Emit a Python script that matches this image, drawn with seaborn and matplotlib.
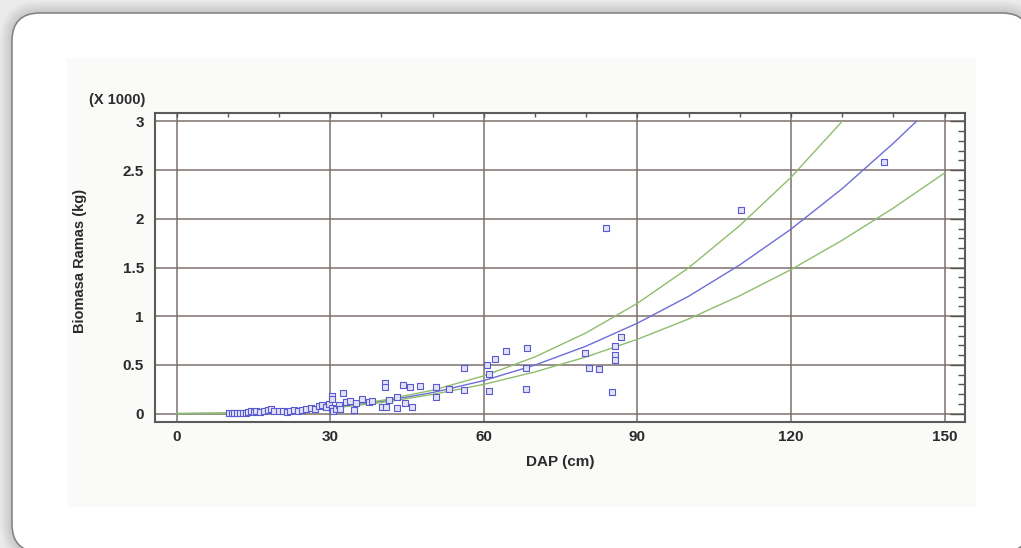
import matplotlib
matplotlib.use("Agg")
import matplotlib.pyplot as plt
from matplotlib.patches import FancyBboxPatch, Rectangle
from matplotlib.ticker import MultipleLocator, FuncFormatter
import pandas as pd
import seaborn as sns

# Observed trees: diameter at breast height (cm) and branch biomass (thousands of kg)
dap_cm = [
    10.2, 10.8, 11.3, 11.9, 12.4, 13.0, 13.5, 14.0, 14.6, 15.2, 15.5, 16.3,
    17.0, 17.8, 18.4, 19.0, 20.1, 20.8, 21.5, 22.2, 23.0, 23.8, 24.5, 25.3,
    26.2, 27.0, 27.8, 28.5, 29.2, 29.8, 30.3, 30.5, 31.2, 31.8, 32.0,
    30.3, 30.4, 32.6, 33.2, 33.9, 34.6, 35.0, 36.2, 37.6, 38.2, 40.2, 40.8,
    40.8, 40.9, 41.5, 43.1, 43.1, 44.2, 44.7, 45.7, 46.0, 47.5, 50.6, 50.6,
    53.2, 56.1, 56.1,
    60.7, 61.1, 61.1, 62.2, 64.4, 68.4, 68.2, 68.2, 79.7, 80.5, 82.6, 83.8,
    85.1, 85.6, 85.6, 85.6, 86.8, 110.3, 138.2,
]
biomasa_ramas = [
    0.004, 0.006, 0.005, 0.008, 0.007, 0.009, 0.010, 0.012, 0.030, 0.014, 0.025, 0.018,
    0.022, 0.035, 0.048, 0.030, 0.026, 0.032, 0.020, 0.028, 0.035, 0.030, 0.042, 0.050,
    0.060, 0.045, 0.075, 0.085, 0.070, 0.100, 0.060, 0.030, 0.045, 0.090, 0.050,
    0.180, 0.150, 0.216, 0.120, 0.130, 0.040, 0.110, 0.150, 0.115, 0.125, 0.070, 0.310,
    0.270, 0.070, 0.140, 0.175, 0.060, 0.290, 0.110, 0.270, 0.070, 0.280, 0.270, 0.170,
    0.250, 0.470, 0.240,
    0.500, 0.410, 0.230, 0.560, 0.640, 0.670, 0.470, 0.250, 0.620, 0.470, 0.460, 1.905,
    0.220, 0.690, 0.600, 0.550, 0.790, 2.086, 2.580,
]

# Fitted model and its confidence limits (thousands of kg)
fit_dap = [0, 10, 20, 30, 40, 50, 60, 70, 80, 90, 100, 110, 120, 130, 140, 144.5]
fit_mid = [0, 0.004, 0.022, 0.061, 0.124, 0.216, 0.339, 0.498, 0.693, 0.928,
           1.204, 1.526, 1.893, 2.309, 2.775, 3.0]
upper_dap = [0, 10, 20, 30, 40, 50, 60, 70, 80, 90, 100, 110, 120, 130]
fit_upper = [0, 0.006, 0.027, 0.068, 0.135, 0.240, 0.387, 0.582, 0.829, 1.132,
             1.496, 1.930, 2.425, 3.0]
lower_dap = [0, 10, 20, 30, 40, 50, 60, 70, 80, 90, 100, 110, 120, 130, 140, 150]
fit_lower = [0, 0.003, 0.018, 0.054, 0.113, 0.197, 0.300, 0.428, 0.582, 0.763,
             0.971, 1.210, 1.478, 1.779, 2.110, 2.470]

x_ticks = [0, 30, 60, 90, 120, 150]
y_ticks = [0, 0.5, 1, 1.5, 2, 2.5, 3]

sns.set_style("white")
plt.rcParams["font.family"] = ["Liberation Sans", "DejaVu Sans"]
text_color = "#2b2b2b"

W, H = 1021, 548
fig = plt.figure(figsize=(W / 100, H / 100), dpi=100)
fig.patch.set_facecolor("#ebebeb")

# Card background drawn in pixel units
bg = fig.add_axes([0, 0, 1, 1])
bg.set_xlim(0, W)
bg.set_ylim(H, 0)
bg.axis("off")
cx, cy, cw, ch, r = 12, 13, 1018, 539, 28
for d in range(12, 0, -1):
    bg.add_patch(FancyBboxPatch((cx - d, cy - d), cw + 2 * d, ch + 2 * d,
                                boxstyle=f"round,pad=0,rounding_size={r + d}",
                                fc="black", ec="none", alpha=0.013))
bg.add_patch(FancyBboxPatch((cx, cy), cw, ch,
                            boxstyle=f"round,pad=0,rounding_size={r}",
                            fc="white", ec="#7f7f7f", lw=1.1))
bg.add_patch(Rectangle((67, 58), 909, 449, fc="#fafaf9", ec="none"))

# Plot area
ax = fig.add_axes([155 / W, (H - 422) / H, 810 / W, 309 / H])
ax.set_facecolor("white")

obs = pd.DataFrame({"dap": dap_cm, "biomasa": biomasa_ramas})
curves = [
    (fit_dap, fit_mid, "#6d6dd6"),
    (upper_dap, fit_upper, "#8fbd6c"),
    (lower_dap, fit_lower, "#8fbd6c"),
]
for xs, ys, col in curves:
    sns.lineplot(x=xs, y=ys, ax=ax, color=col, lw=1.0, sort=False,
                 estimator=None, zorder=3)
sns.scatterplot(data=obs, x="dap", y="biomasa", ax=ax, marker="s", s=20,
                facecolor="#e2e2f7", edgecolor="#5a5ad0", linewidth=0.8,
                zorder=4)

ax.set_xlim(-4.2, 154.0)
ax.set_ylim(-0.086, 3.086)
ax.set_xticks(x_ticks)
ax.set_yticks(y_ticks)
ax.xaxis.set_minor_locator(MultipleLocator(10))
ax.yaxis.set_minor_locator(MultipleLocator(0.1))
ax.yaxis.set_major_formatter(FuncFormatter(lambda v, p: f"{v:g}"))

ax.set_axisbelow(True)
ax.grid(True, which="major", color="#7d726e", lw=1.1)
for sp in ax.spines.values():
    sp.set_color("#5b5b5b")
    sp.set_linewidth(1.5)

ax.tick_params(which="both", direction="in", top=True, right=True,
               color="#555555", width=1.0, labelcolor=text_color)
ax.tick_params(axis="y", which="major", length=11, pad=8, labelsize=11)
ax.tick_params(axis="y", which="minor", length=5)
ax.tick_params(axis="x", which="major", length=3, pad=6, labelsize=11)
ax.tick_params(axis="x", which="minor", length=3)
for lbl in ax.get_xticklabels() + ax.get_yticklabels():
    lbl.set_fontweight("bold")

ax.set_xlabel("DAP (cm)", fontsize=11, fontweight="bold", color=text_color)
ax.set_ylabel("Biomasa Ramas (kg)", fontsize=10.5, fontweight="bold",
              color=text_color)
ax.xaxis.set_label_coords(0.5, -0.108)
ax.yaxis.set_label_coords(-0.084, 0.52)

fig.text(145 / W, 1 - 100 / H, "(X 1000)", ha="right", va="center",
         fontsize=10.5, fontweight="bold", color=text_color)

fig.savefig("out.png", dpi=100, facecolor=fig.get_facecolor())
